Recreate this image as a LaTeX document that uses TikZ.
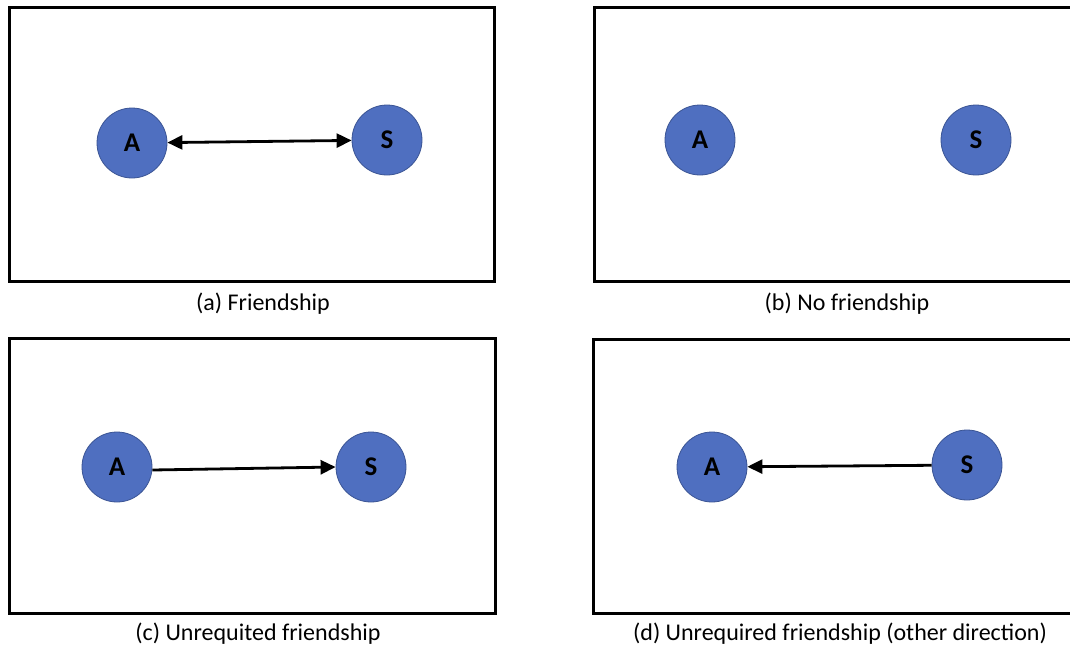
\documentclass[tikz,border=0pt]{standalone}
\usepackage{fontspec}
\setmainfont{Carlito}
\usetikzlibrary{arrows.meta}
\definecolor{nodefill}{HTML}{4F6FC0}
\definecolor{nodeedge}{HTML}{3A5494}
\tikzset{
  panel/.style={draw=black, line width=3pt},
  agent/.style={circle, fill=nodefill, draw=nodeedge, line width=0.8pt,
    minimum size=70pt, inner sep=0pt, font=\fontsize{27}{30}\selectfont\bfseries},
  tie/.style={line width=2.8pt, -{Triangle[length=15pt,width=14pt]}},
  mutual/.style={line width=2.8pt, {Triangle[length=15pt,width=14pt]}-{Triangle[length=15pt,width=14pt]}},
  caption/.style={font=\fontsize{24}{28}\selectfont, inner sep=0pt}
}
\begin{document}
\begin{tikzpicture}[x=1pt,y=-1pt]
\clip (0,0) rectangle (1070,648);
\fill[white] (0,0) rectangle (1070,648);

% (a) mutual friendship
\draw[panel] (9,7) rectangle (494,281);
\node[agent] (aA) at (132,143) {A};
\node[agent] (aS) at (387,140) {S};
\draw[mutual] (aA) -- (aS);
\node[caption] (aL) at (263,304) {(a) Friendship};

% (b) no friendship
\draw[panel] (594,7) rectangle (1085,281);
\node[agent] (bA) at (700,140) {A};
\node[agent] (bS) at (976,140) {S};
\node[caption] (bL) at (847,304) {(b) No friendship};

% (c) one-way friendship A -> S
\draw[panel] (9,338) rectangle (495,613);
\node[agent] (cA) at (117,467) {A};
\node[agent] (cS) at (371,467) {S};
\draw[tie] ([yshift=-3pt]cA.east) -- (cS.west);
\node[caption] (cL) at (258,634) {(c) Unrequited friendship};

% (d) one-way friendship S -> A
\draw[panel] (593,339) rectangle (1085,613);
\node[agent] (dA) at (712,467) {A};
\node[agent] (dS) at (967,465) {S};
\draw[tie] (dS) -- (dA);
\node[caption] (dL) at (840,634) {(d) Unrequired friendship (other direction)};
\end{tikzpicture}
\end{document}
